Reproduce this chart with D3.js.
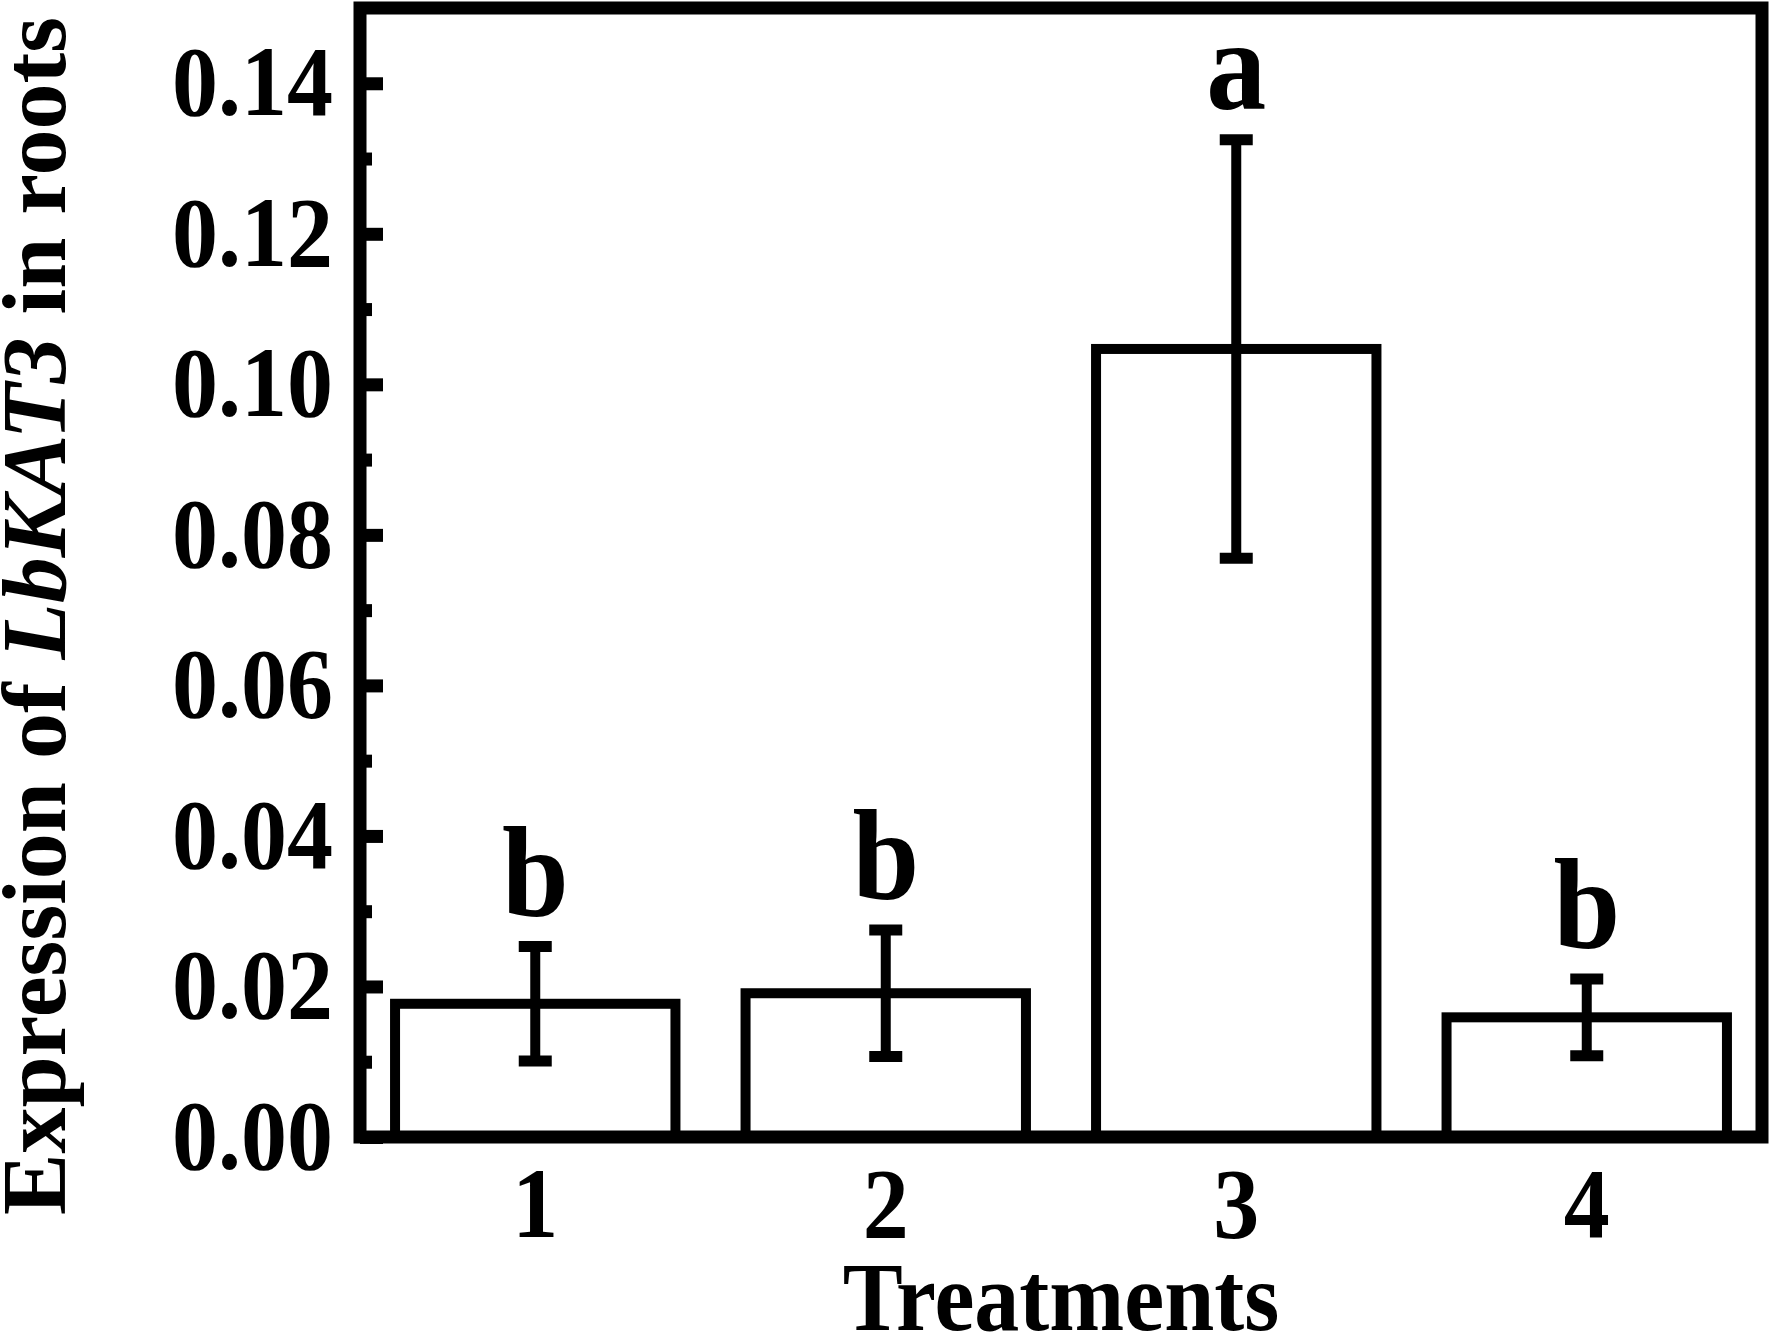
<!DOCTYPE html>
<html>
<head>
<meta charset="utf-8">
<script src="https://cdn.jsdelivr.net/npm/d3@7"></script>
<style>
  body { margin: 0; background: #fff; }
  text { font-family: "Liberation Serif", "Times New Roman", serif; font-weight: bold; fill: #000; }
</style>
</head>
<body>
<div id="chart"></div>
<script>
const categories = ["1", "2", "3", "4"];
const means = [0.0177, 0.0191, 0.1047, 0.0159];
const errors = [0.0076, 0.0084, 0.0278, 0.0051];
const letters = ["b", "b", "a", "b"];
const majorTicks = [0, 0.02, 0.04, 0.06, 0.08, 0.10, 0.12, 0.14];
const minorTicks = [0.01, 0.03, 0.05, 0.07, 0.09, 0.11, 0.13];

const width = 1772, height = 1333;
const plotLeft = 360, plotRight = 1762, plotTop = 8, plotBottom = 1137;
const stretch = 1.077; // glyphs in the figure are a bit taller than normal

const svg = d3.select("#chart")
    .append("svg")
    .attr("width", width)
    .attr("height", height);

const x = d3.scaleBand()
    .domain(categories)
    .range([plotLeft, plotRight])
    .paddingInner(0.2)
    .paddingOuter(0.1);

const y = d3.scaleLinear()
    .domain([0, 0.15])
    .range([plotBottom, plotTop]);

// bars
svg.selectAll(".bar")
    .data(categories)
    .enter()
    .append("rect")
    .attr("class", "bar")
    .attr("x", d => x(d))
    .attr("width", x.bandwidth())
    .attr("y", (d, i) => y(means[i]))
    .attr("height", (d, i) => y(0) - y(means[i]))
    .attr("fill", "#fff")
    .attr("stroke", "#000")
    .attr("stroke-width", 10);

// error bars
const err = svg.selectAll(".err")
    .data(categories)
    .enter()
    .append("g")
    .attr("class", "err")
    .attr("transform", d => `translate(${x(d) + x.bandwidth() / 2},0)`);

err.append("line")
    .attr("y1", (d, i) => y(means[i] - errors[i]))
    .attr("y2", (d, i) => y(means[i] + errors[i]))
    .attr("stroke", "#000")
    .attr("stroke-width", 10);

[-1, 1].forEach(s => {
    err.append("line")
        .attr("x1", -16.5)
        .attr("x2", 16.5)
        .attr("y1", (d, i) => y(means[i] + s * errors[i]))
        .attr("y2", (d, i) => y(means[i] + s * errors[i]))
        .attr("stroke", "#000")
        .attr("stroke-width", 11);
});

// significance letters
svg.selectAll(".letter")
    .data(categories)
    .enter()
    .append("text")
    .attr("class", "letter")
    .attr("text-anchor", "middle")
    .attr("font-size", 120)
    .attr("transform", (d, i) =>
        `translate(${x(d) + x.bandwidth() / 2},${y(means[i] + errors[i]) - 31}) scale(1,${stretch})`)
    .text((d, i) => letters[i]);

// inward ticks on the left axis
const majorAxis = svg.append("g")
    .attr("transform", `translate(${plotLeft},0)`)
    .call(d3.axisLeft(y).tickValues(majorTicks).tickSize(-23).tickFormat(""));
const minorAxis = svg.append("g")
    .attr("transform", `translate(${plotLeft},0)`)
    .call(d3.axisLeft(y).tickValues(minorTicks).tickSize(-12).tickFormat(""));
[majorAxis, minorAxis].forEach(g => {
    g.select(".domain").remove();
    g.selectAll(".tick line").attr("stroke", "#000").attr("stroke-width", 13);
});

// frame
svg.append("rect")
    .attr("x", plotLeft)
    .attr("y", plotTop)
    .attr("width", plotRight - plotLeft)
    .attr("height", plotBottom - plotTop)
    .attr("fill", "none")
    .attr("stroke", "#000")
    .attr("stroke-width", 13);

// y tick labels
svg.selectAll(".ylab")
    .data(majorTicks)
    .enter()
    .append("text")
    .attr("class", "ylab")
    .attr("text-anchor", "end")
    .attr("font-size", 92)
    .attr("transform", d => `translate(333,${y(d) + 32}) scale(1,${stretch})`)
    .text(d3.format(".2f"));

// x tick labels
svg.selectAll(".xlab")
    .data(categories)
    .enter()
    .append("text")
    .attr("class", "xlab")
    .attr("text-anchor", "middle")
    .attr("font-size", 92)
    .attr("transform", d => `translate(${x(d) + x.bandwidth() / 2},1237) scale(1,${stretch})`)
    .text(d => d);

// axis titles
svg.append("text")
    .attr("text-anchor", "middle")
    .attr("font-size", 90)
    .attr("transform", `translate(${(plotLeft + plotRight) / 2},1330) scale(1,${stretch})`)
    .text("Treatments");

const yTitle = svg.append("text")
    .attr("text-anchor", "middle")
    .attr("font-size", 92)
    .attr("transform", "translate(65,616) rotate(-90)");
yTitle.append("tspan").text("Expression of ");
yTitle.append("tspan").attr("font-style", "italic").text("LbKAT3");
yTitle.append("tspan").text(" in roots");
</script>
</body>
</html>
